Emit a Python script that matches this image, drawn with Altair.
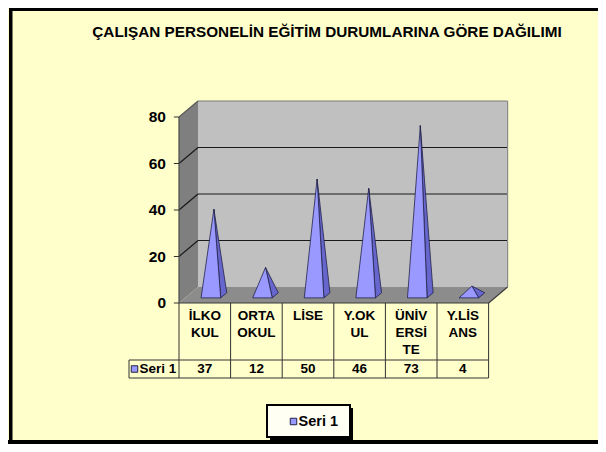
import altair as alt
import pandas as pd

# ---------------- data ----------------
title_text = "ÇALIŞAN PERSONELİN EĞİTİM DURUMLARINA GÖRE DAĞILIMI"
categories = ["İLKOKUL", "ORTAOKUL", "LİSE", "Y.OKUL", "ÜNİVERSİTE", "Y.LİSANS"]
category_labels = ["İLKO\nKUL", "ORTA\nOKUL", "LİSE", "Y.OK\nUL", "ÜNİV\nERSİ\nTE", "Y.LİS\nANS"]
values = [37, 12, 50, 46, 73, 4]
series_name = "Seri 1"
y_ticks = [0, 20, 40, 60, 80]
gridlines = [20, 40, 60]

# ---------------- layout / style ----------------
W, H = 590, 436
X0, X1 = 171, 480.6          # pixel span of the category axis (front edge)
Y0, YTOP = 295, 109          # pixel positions of value 0 and 80 (front plane)
YMAX = 80
DX = 0.368                   # depth offset in category units
DY = 6.88                    # depth offset in value units
HW = 0.19                    # half width of pyramid base (category units)
F_FRONT, F_BACK, F_APEX = 0.32, 0.64, 0.48
FONT = "Liberation Sans"
FRONT_COL = "#9999FF"
SIDE_COL = "#6666CC"

n = len(categories)
xs = alt.Scale(domain=[0, n], range=[X0, X1], nice=False, zero=False)
ys = alt.Scale(domain=[0, YMAX], range=[Y0, YTOP], nice=False, zero=False)


def X(f="x"):
    return alt.X(f"{f}:Q", scale=xs, axis=None)


def Y(f="y"):
    return alt.Y(f"{f}:Q", scale=ys, axis=None)


# ---------------- walls & floor ----------------
wall_rows = []


def poly(rows, name, pts, color):
    for k, (x, y) in enumerate(pts):
        rows.append(dict(shape=name, k=k, x=x, y=y, color=color))


poly(wall_rows, "back", [(DX, DY), (n + DX, DY), (n + DX, YMAX + DY), (DX, YMAX + DY)], "#C0C0C0")
poly(wall_rows, "side", [(0, 0), (DX, DY), (DX, YMAX + DY), (0, YMAX)], "#7F7F7F")
poly(wall_rows, "floor", [(0, 0), (n, 0), (n + DX, DY), (DX, DY)], "#8C8C8C")
walls_df = pd.DataFrame(wall_rows)

walls = alt.Chart(walls_df).mark_line(
    filled=True, interpolate="linear-closed", strokeWidth=0
).encode(
    x=X(), y=Y(), detail="shape:N", order="k:Q",
    fill=alt.Fill("color:N", scale=None),
)

# grid lines (back wall + diagonal on side wall)
grid_rows = []
for g in gridlines:
    grid_rows.append(dict(x=DX, y=g + DY, x2=n + DX, y2=g + DY, c="#1a1a1a"))
    grid_rows.append(dict(x=0, y=g, x2=DX, y2=g + DY, c="#1a1a1a"))
# wall edges
grid_rows.append(dict(x=DX, y=YMAX + DY, x2=n + DX, y2=YMAX + DY, c="#7a7a7a"))
grid_rows.append(dict(x=0, y=YMAX, x2=DX, y2=YMAX + DY, c="#5a5a5a"))
grid_rows.append(dict(x=n + DX, y=DY, x2=n + DX, y2=YMAX + DY, c="#8a8a8a"))
grid_rows.append(dict(x=n, y=0, x2=n + DX, y2=DY, c="#3a3a3a"))
grid_rows.append(dict(x=0, y=0, x2=n, y2=0, c="#3a3a3a"))
grid_rows.append(dict(x=0, y=0, x2=0, y2=YMAX, c="#4a4a4a"))
grid_df = pd.DataFrame(grid_rows)

grid = alt.Chart(grid_df).mark_rule(strokeWidth=1.2).encode(
    x=X(), y=Y(), x2="x2:Q", y2="y2:Q", color=alt.Color("c:N", scale=None)
)

# y axis ticks and labels
ticks_df = pd.DataFrame({"v": y_ticks, "x": [-0.1] * len(y_ticks), "x2": [0] * len(y_ticks)})
ticks = alt.Chart(ticks_df).mark_rule(color="#333333", strokeWidth=1).encode(
    x=X(), x2="x2:Q", y=Y("v")
)
tick_labels = alt.Chart(ticks_df).mark_text(
    align="right", baseline="middle", font=FONT, fontWeight="bold", fontSize=15.5, color="#000000"
).encode(x=alt.value(158), y=Y("v"), text="v:Q")

# ---------------- pyramids ----------------
pyr_rows = []
for i, v in enumerate(values):
    cx = i + 0.5
    fl = (cx - HW + F_FRONT * DX, F_FRONT * DY)
    fr = (cx + HW + F_FRONT * DX, F_FRONT * DY)
    br = (cx + HW + F_BACK * DX, F_BACK * DY)
    ap = (cx + F_APEX * DX, v + F_APEX * DY)
    poly(pyr_rows, f"{i}-a-side", [fr, br, ap], SIDE_COL)
    poly(pyr_rows, f"{i}-b-front", [fl, fr, ap], FRONT_COL)
pyr_df = pd.DataFrame(pyr_rows)

pyramids = alt.Chart(pyr_df).mark_line(
    filled=True, interpolate="linear-closed", stroke="#22224a", strokeWidth=0.8
).encode(
    x=X(), y=Y(), detail="shape:N", order="k:Q",
    fill=alt.Fill("color:N", scale=None),
)

# ---------------- data table ----------------
cat_df = pd.DataFrame({
    "cx": [i + 0.5 for i in range(n)],
    "label": category_labels,
    "value": values,
})
edges_df = pd.DataFrame({"e": list(range(n + 1))})

TBL_TOP, TBL_MID, TBL_BOT, TBL_LEFT = 295, 352, 370, 121

table_vlines = alt.Chart(edges_df).mark_rule(color="#333333", strokeWidth=1).encode(
    x=X("e"), y=alt.value(TBL_TOP), y2=alt.value(TBL_BOT)
)
hl_df = pd.DataFrame({"yy": [TBL_MID, TBL_BOT]})
table_hlines = alt.Chart(hl_df).mark_rule(color="#333333", strokeWidth=1).encode(
    x=alt.value(TBL_LEFT), x2=alt.value(X1), y=alt.Y("yy:Q", scale=None, axis=None)
)
one = pd.DataFrame({"a": [0]})
table_left = alt.Chart(one).mark_rule(color="#333333", strokeWidth=1).encode(
    x=alt.value(TBL_LEFT), y=alt.value(TBL_MID), y2=alt.value(TBL_BOT)
)
cat_text = alt.Chart(cat_df).mark_text(
    align="center", baseline="top", lineBreak="\n", lineHeight=17,
    font=FONT, fontWeight="bold", fontSize=13.5, color="#000000"
).encode(x=X("cx"), y=alt.value(301), text="label:N")
val_text = alt.Chart(cat_df).mark_text(
    align="center", baseline="middle", font=FONT, fontWeight="bold", fontSize=13.5, color="#000000"
).encode(x=X("cx"), y=alt.value(361), text="value:Q")

ser_df = pd.DataFrame({"s": [series_name]})
tbl_key = alt.Chart(ser_df).mark_square(
    size=42, filled=True, color=FRONT_COL, stroke="#222244", strokeWidth=1, opacity=1
).encode(x=alt.value(126.5), y=alt.value(361))
tbl_key_text = alt.Chart(ser_df).mark_text(
    align="left", baseline="middle", font=FONT, fontWeight="bold", fontSize=13.5, color="#000000"
).encode(x=alt.value(131.5), y=alt.value(361), text="s:N")

# ---------------- legend box ----------------
leg_shadow = alt.Chart(one).mark_rect(color="#000000").encode(
    x=alt.value(262), x2=alt.value(345), y=alt.value(400), y2=alt.value(432)
)
leg_box = alt.Chart(one).mark_rect(fill="#FFFFF4", stroke="#000000", strokeWidth=2).encode(
    x=alt.value(259), x2=alt.value(342), y=alt.value(397), y2=alt.value(429)
)
leg_key = alt.Chart(ser_df).mark_square(
    size=42, filled=True, color=FRONT_COL, stroke="#222244", strokeWidth=1, opacity=1
).encode(x=alt.value(285.5), y=alt.value(413.5))
leg_text = alt.Chart(ser_df).mark_text(
    align="left", baseline="middle", font=FONT, fontWeight="bold", fontSize=14.5, color="#000000"
).encode(x=alt.value(290.5), y=alt.value(413.5), text="s:N")

# ---------------- title & frame ----------------
title_df = pd.DataFrame({"t": [title_text]})
title = alt.Chart(title_df).mark_text(
    align="center", baseline="middle", font=FONT, fontWeight="bold", fontSize=15.3, color="#000000"
).encode(x=alt.value(319), y=alt.value(24), text="t:N")

frame_left = alt.Chart(one).mark_rect(color="#000000").encode(
    x=alt.value(1), x2=alt.value(4.5), y=alt.value(0), y2=alt.value(H)
)
frame_top = alt.Chart(one).mark_rect(color="#000000").encode(
    x=alt.value(1), x2=alt.value(W), y=alt.value(0), y2=alt.value(3)
)
frame_bottom = alt.Chart(one).mark_rect(color="#000000").encode(
    x=alt.value(0), x2=alt.value(W), y=alt.value(H - 4), y2=alt.value(H)
)

chart = alt.layer(
    walls, grid, ticks, tick_labels, pyramids,
    table_vlines, table_hlines, table_left, cat_text, val_text, tbl_key, tbl_key_text,
    leg_shadow, leg_box, leg_key, leg_text, title,
    frame_left, frame_top, frame_bottom,
).properties(
    width=W, height=H, background="#FFFFCC", padding=0,
    autosize=alt.AutoSizeParams(type="none"),
).configure_view(stroke=None)

chart.save("out.html", embed_options={"renderer": "svg", "actions": False})
